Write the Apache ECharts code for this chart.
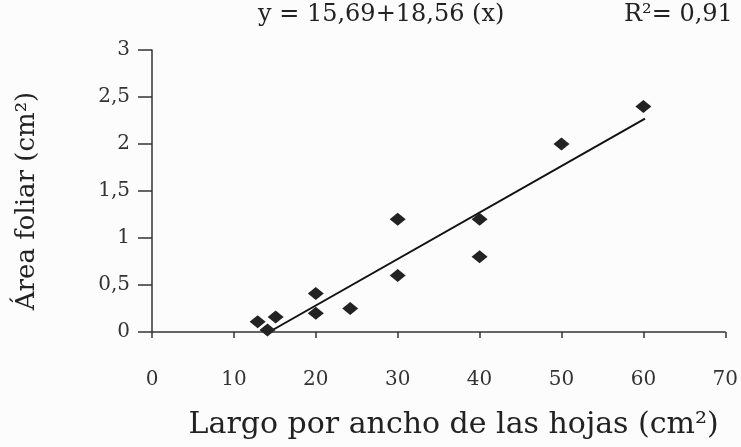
<!DOCTYPE html>
<html lang="es">
<head>
    <meta charset="UTF-8">
    <title>Área foliar</title>
    <script src="https://cdn.jsdelivr.net/npm/echarts@6/dist/echarts.min.js"></script>
    <style>
        html, body { margin: 0; padding: 0; background: #fcfcfc; }
        #main { width: 741px; height: 447px; }
    </style>
</head>
<body>
    <div id="main"></div>
    <script>
        // datos
        var largoAncho = [12.9, 14.1, 15.1, 20, 20, 24.2, 30, 30, 40, 40, 50, 60];
        var areaFoliar = [0.11, 0.02, 0.16, 0.41, 0.2, 0.25, 1.2, 0.6, 1.2, 0.8, 2.0, 2.4];
        // extremos de la recta de tendencia
        var tendenciaX = [14.3, 60.2];
        var tendenciaY = [0, 2.27];
        var ecuacion = 'y = 15,69+18,56 (x)';
        var r2 = 'R²= 0,91';

        var puntos = largoAncho.map(function (x, i) { return [x, areaFoliar[i]]; });
        var recta = tendenciaX.map(function (x, i) { return [x, tendenciaY[i]]; });

        var serif = 'DejaVu Serif';
        var myChart = echarts.init(document.getElementById('main'));
        var option = {
            backgroundColor: '#fcfcfc',
            animation: false,
            grid: { left: 152, top: 50, right: 9, bottom: 115 },
            xAxis: {
                type: 'value',
                min: 0, max: 70, interval: 10,
                name: 'Largo por ancho de las hojas (cm²)',
                nameLocation: 'middle',
                nameGap: 78,
                nameTextStyle: { fontFamily: serif, fontSize: 30, color: '#222', padding: [0, 0, 0, 30] },
                axisLine: { lineStyle: { color: '#333', width: 1.5 } },
                axisTick: { length: 6, lineStyle: { color: '#333', width: 1.5 } },
                axisLabel: { margin: 38, fontFamily: serif, fontSize: 20, color: '#333' },
                splitLine: { show: false }
            },
            yAxis: {
                type: 'value',
                min: 0, max: 3, interval: 0.5,
                name: 'Área foliar (cm²)',
                nameLocation: 'middle',
                nameGap: 112,
                nameTextStyle: { fontFamily: serif, fontSize: 26, color: '#222', padding: [0, 20, 0, 0] },
                axisLine: { show: true, lineStyle: { color: '#333', width: 1.5 } },
                axisTick: { show: true, length: 14, lineStyle: { color: '#333', width: 1.5 } },
                axisLabel: {
                    margin: 22, fontFamily: serif, fontSize: 20, color: '#333',
                    formatter: function (v) { return String(v).replace('.', ','); }
                },
                splitLine: { show: false }
            },
            graphic: [
                { type: 'text', left: 258, top: 3, style: { text: ecuacion, font: '24px "DejaVu Serif"', fill: '#222' } },
                { type: 'text', left: 624, top: 3, style: { text: r2, font: '24px "DejaVu Serif"', fill: '#222' } }
            ],
            series: [
                {
                    type: 'scatter',
                    data: puntos,
                    symbol: 'diamond',
                    symbolSize: [16, 13],
                    itemStyle: { color: '#222', opacity: 1 },
                    z: 3
                },
                {
                    type: 'line',
                    data: recta,
                    showSymbol: false,
                    lineStyle: { color: '#111', width: 2 },
                    z: 2
                }
            ]
        };
        myChart.setOption(option);
    </script>
</body>
</html>
